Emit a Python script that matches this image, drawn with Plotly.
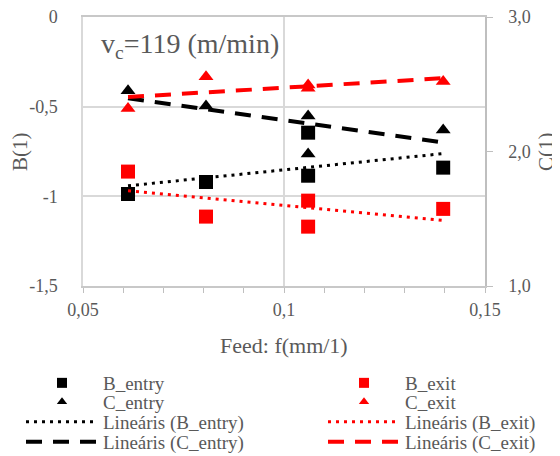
import numpy as np
import plotly.graph_objects as go

# ---- data ----
feed = [0.0612, 0.0806, 0.1060, 0.1060, 0.1396]
b_entry = [-0.987, -0.920, -0.645, -0.885, -0.840]
b_exit = [-0.862, -1.113, -1.024, -1.169, -1.070]
c_entry = [2.452, 2.338, 2.264, 1.981, 2.160]
c_exit = [2.320, 2.556, 2.494, 2.470, 2.520]

x_ticks = [0.05, 0.1, 0.15]
x_tick_labels = ["0,05", "0,1", "0,15"]
b_ticks = [0, -0.5, -1, -1.5]
b_tick_labels = ["0", "-0,5", "-1", "-1,5"]
c_ticks = [1, 2, 3]
c_tick_labels = ["1,0", "2,0", "3,0"]

FONT = "Liberation Serif"
TXT = "#595959"
RED = "#FF0000"
BLK = "#000000"
DOT = "3px,5px"
DASH = "16px,11px"

# the page body has an 8px margin; the figure is sized/offset to compensate
OFF = 8
W, HGT = 560 - OFF, 456 - OFF
PL, PR, PT, PB = 83, 485, 17, 286  # plot area in page pixels
PW, PH = PR - PL, PB - PT


def px_x(x):  # page pixel -> paper x
    return (x - PL) / PW


def px_y(y):  # page pixel -> paper y
    return (PB - y) / PH


def trend(x, y):
    k, b = np.polyfit(x, y, 1)
    xs = np.array([min(x), max(x)])
    return xs, k * xs + b


fig = go.Figure()

fig.add_trace(go.Scatter(x=feed, y=b_entry, mode="markers", yaxis="y", showlegend=False,
                         marker=dict(symbol="square", size=14, color=BLK)))
fig.add_trace(go.Scatter(x=feed, y=b_exit, mode="markers", yaxis="y", showlegend=False,
                         marker=dict(symbol="square", size=14, color=RED)))
for ys, col in [(b_entry, BLK), (b_exit, RED)]:
    tx, ty = trend(feed, ys)
    fig.add_trace(go.Scatter(x=tx, y=ty, mode="lines", yaxis="y", showlegend=False,
                             line=dict(color=col, width=3, dash=DOT)))
fig.add_trace(go.Scatter(x=feed, y=c_entry, mode="markers", yaxis="y2", showlegend=False,
                         marker=dict(symbol="triangle-up", size=13, color=BLK)))
fig.add_trace(go.Scatter(x=feed, y=c_exit, mode="markers", yaxis="y2", showlegend=False,
                         marker=dict(symbol="triangle-up", size=13, color=RED)))
for ys, col in [(c_entry, BLK), (c_exit, RED)]:
    tx, ty = trend(feed, ys)
    fig.add_trace(go.Scatter(x=tx, y=ty, mode="lines", yaxis="y2", showlegend=False,
                             line=dict(color=col, width=4, dash=DASH)))

legend_items = [
    ("B_entry", dict(mode="markers", marker=dict(symbol="square", size=10, color=BLK))),
    ("B_exit", dict(mode="markers", marker=dict(symbol="square", size=10, color=RED))),
    ("C_entry", dict(mode="markers", marker=dict(symbol="triangle-up", size=9, color=BLK))),
    ("C_exit", dict(mode="markers", marker=dict(symbol="triangle-up", size=9, color=RED))),
    ("Lineáris (B_entry)", dict(mode="lines", line=dict(color=BLK, width=3, dash=DOT))),
    ("Lineáris (B_exit)", dict(mode="lines", line=dict(color=RED, width=3, dash=DOT))),
    ("Lineáris (C_entry)", dict(mode="lines", line=dict(color=BLK, width=4, dash=DASH))),
    ("Lineáris (C_exit)", dict(mode="lines", line=dict(color=RED, width=4, dash=DASH))),
]
col_x = [21, 323]          # page px of legend box left
row_y = [383, 402, 422, 442]  # page px of row centres
legend_layout = {}
for i, (name, kw) in enumerate(legend_items):
    lg = "legend" if i == 0 else "legend%d" % (i + 1)
    fig.add_trace(go.Scatter(x=[None], y=[None], name=name, legend=lg, **kw))
    legend_layout[lg] = dict(
        orientation="v", xref="container", yref="container",
        x=(col_x[i % 2] - OFF) / W, xanchor="left",
        y=1 - (row_y[i // 2] - OFF) / HGT, yanchor="middle",
        itemwidth=72, font=dict(family=FONT, size=19, color=TXT),
        bgcolor="rgba(0,0,0,0)", borderwidth=0,
    )

title_font = dict(family=FONT, size=21, color=TXT)
fig.update_layout(
    width=W, height=HGT, autosize=False,
    margin=dict(l=PL - OFF, r=W - (PR - OFF), t=PT - OFF, b=HGT - (PB - OFF), pad=0, autoexpand=False),
    paper_bgcolor="white", plot_bgcolor="white",
    font=dict(family=FONT, color=TXT),
    xaxis=dict(range=[0.05, 0.15], tickvals=x_ticks, ticktext=x_tick_labels, automargin=False,
               showgrid=True, gridcolor="#D9D9D9", gridwidth=1.5, zeroline=False,
               showline=True, linecolor="#C8C8C8", linewidth=1.5, mirror=True,
               ticks="outside", ticklen=5, tickcolor="#BFBFBF",
               minor=dict(dtick=0.01, ticks="outside", ticklen=5, tickcolor="#BFBFBF", showgrid=False),
               tickfont=dict(family=FONT, size=18, color=TXT), ticklabelstandoff=2,
               ticklabeloverflow="allow"),
    yaxis=dict(range=[-1.5, 0], tickvals=b_ticks, ticktext=b_tick_labels, automargin=False,
               showgrid=True, gridcolor="#D9D9D9", gridwidth=1.5, zeroline=False,
               showline=True, linecolor="#D9D9D9", linewidth=1.5, ticks="",
               tickfont=dict(family=FONT, size=18, color=TXT), ticklabelstandoff=20,
               ticklabeloverflow="allow"),
    yaxis2=dict(range=[1, 3], tickvals=c_ticks, ticktext=c_tick_labels, overlaying="y", side="right",
                automargin=False,
                showgrid=False, zeroline=False, showline=True, linecolor="#BFBFBF", linewidth=1.5,
                ticks="outside", ticklen=6, tickcolor="#BFBFBF",
                tickfont=dict(family=FONT, size=18, color=TXT), ticklabelstandoff=12,
                ticklabeloverflow="allow"),
    annotations=[
        dict(text="v<sub>c</sub>=119 (m/min)", xref="paper", yref="paper",
             x=px_x(99), y=px_y(45), xanchor="left", yanchor="middle",
             showarrow=False, font=dict(family=FONT, size=28, color=TXT)),
        dict(text="B(1)", xref="paper", yref="paper", x=px_x(20), y=px_y(152),
             xanchor="center", yanchor="middle", textangle=-90, showarrow=False, font=title_font),
        dict(text="C(1)", xref="paper", yref="paper", x=px_x(546), y=px_y(152),
             xanchor="center", yanchor="middle", textangle=-90, showarrow=False, font=title_font),
        dict(text="Feed: f(mm/1)", xref="paper", yref="paper", x=px_x(284), y=px_y(345),
             xanchor="center", yanchor="middle", showarrow=False,
             font=dict(family=FONT, size=22, color=TXT)),
    ],
    **legend_layout,
)

fig.write_html("out.html")
